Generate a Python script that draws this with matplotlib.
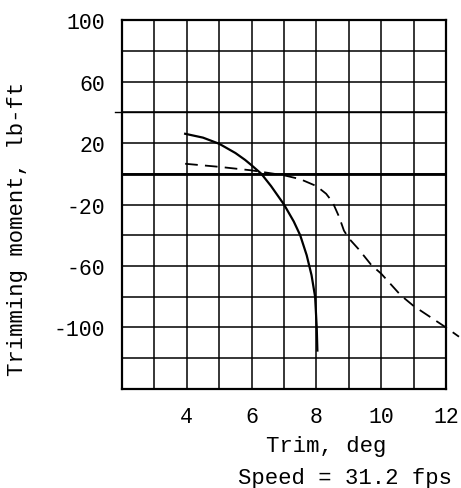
import matplotlib
matplotlib.use("Agg")
import matplotlib.pyplot as plt
import numpy as np

# solid curve
trim_solid = [3.95, 4.5, 5.0, 5.5, 5.8, 6.0, 6.3, 6.6, 7.0, 7.3, 7.5, 7.7, 7.85, 7.96, 8.01, 8.03]
moment_solid = [26, 23.5, 19.5, 13.5, 9, 5.5, 0, -8, -20, -31, -40, -53, -66, -80, -100, -115]

# dashed curve
trim_dash = [3.95, 5.0, 6.0, 7.0, 7.5, 8.0, 8.3, 8.5, 8.7, 8.85, 9.0, 9.3, 9.7, 10.0, 10.6, 11.0, 12.0, 12.4]
moment_dash = [6.5, 4.5, 2.2, -1, -3.5, -8, -13, -18.5, -28, -37, -42, -49, -59.5, -65, -79, -86, -100, -106]

xticks = [4, 6, 8, 10, 12]
yticks = [100, 60, 20, -20, -60, -100]

plt.rcParams['font.family'] = ['Liberation Mono', 'DejaVu Sans Mono']
plt.rcParams['axes.unicode_minus'] = False

fig = plt.figure(figsize=(4.61, 4.89), dpi=100)
ax = fig.add_axes([0.2646, 0.2025, 0.7029, 0.7545])

ax.set_xlim(2, 12)
ax.set_ylim(-140, 100)

# grid, every 1 deg and every 20 lb-ft
for xv in np.arange(3, 12, 1):
    ax.axvline(xv, color='black', lw=1.1)
for yv in np.arange(-120, 100, 20):
    ax.axhline(yv, color='black', lw=1.1)
ax.axhline(0, color='black', lw=2.0)
ax.axhline(40, xmin=-0.022, xmax=1, color='black', lw=1.0, clip_on=False)

ax.plot(trim_solid, moment_solid, color='black', lw=1.6)
ax.plot(trim_dash, moment_dash, color='black', lw=1.3, dashes=(7, 4), clip_on=False)

for s in ax.spines.values():
    s.set_linewidth(1.6)

ax.set_xticks(xticks)
ax.set_yticks(yticks)
ax.tick_params(length=0, labelsize=15.5, pad=12)

fig.text(0.038, 0.532, 'Trimming moment, lb-ft', rotation=90, fontsize=16, ha='center', va='center')
fig.text(0.708, 0.086, 'Trim, deg', fontsize=16, ha='center', va='center')
fig.text(0.749, 0.022, 'Speed = 31.2 fps', fontsize=16, ha='center', va='center')

fig.savefig('out.png', dpi=100)
